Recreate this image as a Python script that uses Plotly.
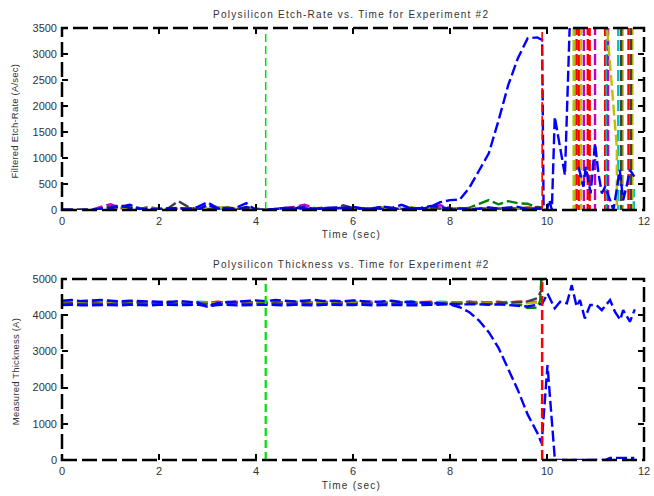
import plotly.graph_objects as go
from plotly.subplots import make_subplots

# ---- data ----
T = [0.0, 0.2, 0.4, 0.6, 0.8, 1.0, 1.2, 1.4, 1.6, 1.8,
     2.0, 2.2, 2.4, 2.6, 2.8, 3.0, 3.2, 3.4, 3.6, 3.8,
     4.0, 4.2, 4.4, 4.6, 4.8, 5.0, 5.2, 5.4, 5.6, 5.8,
     6.0, 6.2, 6.4, 6.6, 6.8, 7.0, 7.2, 7.4, 7.6, 7.8,
     8.0, 8.2, 8.4, 8.6, 8.8, 9.0, 9.2, 9.4, 9.6, 9.8]

# etch rate (A/sec), one list per wafer
rate_green = [0, 0, 0, 0, 0, 20, 10, 30, 20, 60, 10, 0, 20, 10, 0, 20, 10, 30, 0, 20, 10, 0, 0, 20, 10,
              0, 20, 30, 10, 20, 50, 10, 40, 0, 20, 10, 30, 10, 20, 0, 10, 20, 40, 120, 190, 110, 170, 130, 120, 40]
rate_red = [0, 0, 0, 0, 30, 10, 40, 20, 0, 10, 30, 0, 20, 40, 10, 30, 0, 20, 10, 40, 20, 0, 10, 30, 0,
            20, 40, 10, 20, 0, 30, 10, 20, 40, 10, 30, 20, 0, 40, 20, 10, 30, 10, 20, 40, 10, 30, 20, 50, 20]
rate_cyan = [0, 0, 0, 0, 20, 40, 30, 10, 40, 20, 0, 30, 10, 20, 40, 10, 30, 20, 0, 10, 30, 0, 20, 10, 40,
             20, 10, 30, 20, 40, 10, 20, 30, 10, 20, 40, 10, 30, 20, 10, 30, 20, 10, 40, 20, 30, 10, 20, 40, 30]
rate_magenta = [0, 0, 0, 0, 60, 110, 40, 20, 30, 10, 0, 20, 40, 10, 20, 90, 60, 20, 30, 10, 0, 0, 20, 40, 60,
                100, 40, 20, 10, 30, 20, 10, 30, 40, 20, 10, 30, 20, 50, 90, 40, 20, 10, 30, 20, 40, 10, 20, 30, 10]
rate_olive = [0, 0, 0, 0, 10, 30, 20, 50, 30, 40, 10, 20, 40, 20, 0, 30, 40, 60, 20, 60, 30, 0, 20, 10, 30,
              20, 40, 30, 20, 10, 40, 30, 20, 50, 30, 40, 60, 20, 30, 10, 20, 40, 30, 20, 40, 30, 20, 40, 20, 30]
rate_gray = [0, 0, 0, 0, 30, 60, 90, 50, 20, 30, 20, 40, 170, 60, 10, 20, 30, 50, 20, 30, 20, 0, 10, 30, 50,
             40, 20, 50, 30, 90, 40, 20, 30, 60, 40, 20, 30, 10, 40, 20, 10, 30, 40, 20, 30, 20, 40, 20, 30, 60]
rate_blue2 = [0, 0, 0, 0, 20, 40, 60, 100, 30, 20, 0, 30, 40, 20, 60, 150, 40, 20, 50, 130, 0, 0, 20, 40, 30,
              60, 20, 40, 30, 50, 60, 30, 20, 70, 40, 100, 30, 40, 80, 60, 20, 30, 10, 20, 50, 30, 40, 60, 20, 30]
rate_blue = [0, 0, 0, 0, 20, 40, 80, 40, 20, 10, 0, 30, 10, 20, 0, 100, 30, 20, 10, 60, 0, 0, 10, 30, 40,
             20, 10, 30, 50, 20, 30, 10, 40, 20, 30, 10, 40, 20, 60, 150, 190, 200, 430, 760, 1090, 1720, 2400, 2920, 3300, 3320]

# after endpoint (t > 9.8); off-scale readings show up as near-vertical strokes
rate_blue_tail_t = [9.9, 9.93, 10.0, 10.05, 10.1, 10.16, 10.37, 10.47, 10.55]
rate_blue_tail = [3270, 0, 0, 190, 0, 1790, 670, 3600, 60000]
rate_blue2_tail_t = [9.9, 10.54, 10.65, 10.75, 10.8, 10.9, 10.99, 11.06, 11.13, 11.2, 11.3, 11.37, 11.5, 11.57, 11.64, 11.71, 11.8]
rate_blue2_tail = [20, None, 830, 450, 830, 320, 1280, 710, 320, 450, 190, 0, 770, 190, 450, 770, 640]
rate_red_tail_t = [9.9, None, 10.6, 10.62, None, 10.65, 10.67, None, 10.83, 10.85, None, 10.87, 10.89, None,
                   11.19, 11.21, None, 11.67, 11.69]
rate_red_tail = [20, None, -50000, 50000, None, 50000, -50000, None, -50000, 50000, None, 50000, -50000, None,
                 50000, -50000, None, -50000, 50000]
rate_cyan_tail_t = [9.9, None, 10.56, 10.58, None, 11.22, 11.24, None, 11.46, 11.48, None, 11.71, 11.79, 11.8]
rate_cyan_tail = [30, None, 50000, -50000, None, -50000, 50000, None, 50000, -50000, None, 380, 380, -50000]
rate_magenta_tail_t = [9.9, None, 10.75, 10.77, None, 10.98, 11.0, None, 11.25, 11.27]
rate_magenta_tail = [10, None, 50000, -50000, None, -50000, 50000, None, 50000, -50000]
rate_olive_tail_t = [9.9, None, 10.54, 10.56, None, 10.69, 10.71, None, 11.2, 11.23, 11.44, 11.46,
                     None, 11.55, 11.57, None, 11.75, 11.77]
rate_olive_tail = [30, None, 50000, -50000, None, -50000, 50000, None, 60000, 3600, 1200, -50000,
                   None, 50000, -50000, None, -50000, 50000]
rate_gray_tail_t = [9.9, None, 11.52, 11.54, None, 11.72, 11.74]
rate_gray_tail = [50, None, 50000, -50000, None, -50000, 50000]
rate_green_tail_t = [9.9]
rate_green_tail = [30]

# thickness (A)
thk_green = [4340, 4350, 4330, 4340, 4360, 4350, 4330, 4340, 4350, 4360, 4340, 4330, 4350, 4340, 4360, 4350, 4340,
             4330, 4350, 4360, 4380, 4370, 4350, 4340, 4360, 4350, 4340, 4330, 4350, 4360, 4340, 4350, 4330, 4340,
             4350, 4360, 4340, 4350, 4340, 4330, 4350, 4340, 4330, 4350, 4340, 4350, 4330, 4320, 4200, 4210]
thk_red = [4360, 4340, 4370, 4350, 4340, 4360, 4370, 4350, 4340, 4360, 4350, 4370, 4340, 4350, 4360, 4340, 4370,
           4350, 4360, 4340, 4350, 4370, 4360, 4340, 4350, 4370, 4340, 4360, 4350, 4340, 4370, 4350, 4360, 4340,
           4370, 4350, 4340, 4360, 4370, 4350, 4340, 4360, 4350, 4370, 4340, 4360, 4350, 4370, 4360, 4370]
thk_cyan = [4350, 4370, 4360, 4340, 4370, 4350, 4360, 4380, 4350, 4340, 4360, 4370, 4350, 4340, 4370, 4360, 4350,
            4370, 4340, 4360, 4350, 4370, 4360, 4340, 4380, 4350, 4360, 4370, 4340, 4350, 4380, 4360, 4340, 4370,
            4350, 4360, 4380, 4350, 4340, 4370, 4360, 4350, 4370, 4340, 4360, 4350, 4370, 4340, 4360, 4350]
thk_magenta = [4340, 4360, 4350, 4370, 4340, 4350, 4360, 4340, 4370, 4350, 4360, 4340, 4350, 4370, 4360, 4340, 4350,
               4360, 4370, 4340, 4360, 4350, 4340, 4370, 4350, 4360, 4340, 4370, 4360, 4350, 4340, 4360, 4370, 4350,
               4340, 4360, 4350, 4370, 4340, 4360, 4350, 4340, 4370, 4360, 4350, 4370, 4340, 4360, 4370, 4380]
thk_olive = [4330, 4350, 4340, 4320, 4350, 4340, 4330, 4350, 4320, 4340, 4350, 4330, 4340, 4320, 4350, 4340, 4330,
             4350, 4340, 4320, 4340, 4350, 4330, 4340, 4320, 4350, 4340, 4330, 4350, 4320, 4340, 4330, 4350, 4340,
             4320, 4330, 4350, 4340, 4330, 4350, 4340, 4320, 4330, 4350, 4340, 4330, 4350, 4340, 4330, 4350]
thk_gray = [4320, 4330, 4310, 4330, 4320, 4310, 4330, 4320, 4340, 4310, 4320, 4330, 4310, 4320, 4330, 4310, 4320,
            4310, 4330, 4320, 4310, 4320, 4330, 4310, 4320, 4330, 4310, 4320, 4330, 4320, 4310, 4330, 4320, 4310,
            4320, 4330, 4320, 4310, 4330, 4320, 4310, 4320, 4330, 4320, 4310, 4330, 4340, 4350, 4380, 4470]
thk_blue2 = [4400, 4420, 4390, 4410, 4420, 4400, 4380, 4400, 4390, 4370, 4380, 4360, 4390, 4380, 4350, 4230, 4330,
             4360, 4380, 4400, 4410, 4390, 4420, 4400, 4380, 4400, 4420, 4390, 4400, 4380, 4410, 4390, 4370, 4380,
             4400, 4360, 4370, 4350, 4330, 4320, 4310, 4300, 4310, 4300, 4290, 4300, 4280, 4250, 4240, 4290]
thk_blue = [4280, 4290, 4270, 4280, 4290, 4280, 4270, 4290, 4280, 4270, 4290, 4280, 4270, 4280, 4290, 4240, 4280,
            4290, 4270, 4280, 4300, 4290, 4280, 4270, 4290, 4280, 4270, 4290, 4280, 4270, 4280, 4290, 4270, 4280,
            4290, 4280, 4270, 4280, 4290, 4280, 4300, 4220, 4080, 3850, 3530, 3100, 2500, 1930, 1260, 750]

thk_blue_tail_t = [9.89, 10.01, 10.16, 10.2, 11.2, 11.3, 11.8]
thk_blue_tail = [460, 2620, 50, 0, 0, 60, 60]
thk_blue2_tail_t = [9.9, 10.01, 10.16, 10.27, 10.41, 10.51, 10.61, 10.68, 10.78, 10.89, 11.02, 11.13, 11.3, 11.4,
                    11.51, 11.57, 11.71, 11.81]
thk_blue2_tail = [4310, 4600, 4190, 4370, 4330, 4830, 4240, 4420, 3910, 4280, 4280, 4140, 4420, 4100, 3870, 4140, 3820, 4160]
thk_gray_tail_t = [9.89, 9.94]
thk_gray_tail = [4700, 6000]
thk_green_tail_t = [9.86, 9.92]
thk_green_tail = [4400, 6000]
thk_other_tail_t = [9.9]
thk_red_tail = [4360]
thk_cyan_tail = [4350]
thk_magenta_tail = [4370]
thk_olive_tail = [4340]

EVENT_START = 4.2   # green marker
EVENT_END = 9.9     # red marker

COLORS = {"green": "#008000", "red": "#ff0000", "cyan": "#00bfbf", "magenta": "#bf00bf",
          "olive": "#bfbf00", "gray": "#404040", "blue": "#0000ff"}

# ---- figure ----
fig = make_subplots(rows=2, cols=1, vertical_spacing=0.16)
fig.update_layout(yaxis_domain=[0.5787, 1.0], yaxis2_domain=[0.0, 0.419])

DASH = "11px,4px"


def add(x, y, tx, ty, color, row, width=2.4):
    fig.add_trace(go.Scatter(x=list(x) + list(tx), y=list(y) + list(ty), mode="lines",
                             line=dict(color=COLORS[color], width=width, dash=DASH),
                             connectgaps=False, showlegend=False, hoverinfo="skip"),
                  row=row, col=1)


# etch-rate panel
add(T, rate_green, rate_green_tail_t, rate_green_tail, "green", 1)
add(T, rate_red, rate_red_tail_t, rate_red_tail, "red", 1)
add(T, rate_cyan, rate_cyan_tail_t, rate_cyan_tail, "cyan", 1)
add(T, rate_magenta, rate_magenta_tail_t, rate_magenta_tail, "magenta", 1)
add(T, rate_olive, rate_olive_tail_t, rate_olive_tail, "olive", 1)
add(T, rate_gray, rate_gray_tail_t, rate_gray_tail, "gray", 1)
add(T, rate_blue2, rate_blue2_tail_t, rate_blue2_tail, "blue", 1)
add(T, rate_blue, rate_blue_tail_t, rate_blue_tail, "blue", 1)

# thickness panel
add(T, thk_green, thk_green_tail_t, thk_green_tail, "green", 2)
add(T, thk_red, thk_other_tail_t, thk_red_tail, "red", 2)
add(T, thk_cyan, thk_other_tail_t, thk_cyan_tail, "cyan", 2)
add(T, thk_magenta, thk_other_tail_t, thk_magenta_tail, "magenta", 2)
add(T, thk_olive, thk_other_tail_t, thk_olive_tail, "olive", 2)
add(T, thk_gray, thk_gray_tail_t, thk_gray_tail, "gray", 2)
add(T, thk_blue2, thk_blue2_tail_t, thk_blue2_tail, "blue", 2)
add(T, thk_blue, thk_blue_tail_t, thk_blue_tail, "blue", 2)

# event markers
for xa, ya, w_g, w_r in (("x", "y", 1.5, 1.6), ("x2", "y2", 2.2, 2.5)):
    fig.add_shape(type="line", xref=xa, yref=ya + " domain", x0=EVENT_START, x1=EVENT_START, y0=0, y1=1,
                  line=dict(color="#00e000", width=w_g, dash="8px,4px"))
    fig.add_shape(type="line", xref=xa, yref=ya + " domain", x0=EVENT_END, x1=EVENT_END, y0=0, y1=1,
                  line=dict(color="#ff0000", width=w_r, dash="10px,4px"))
    # dashed box
    fig.add_shape(type="rect", xref=xa + " domain", yref=ya + " domain", x0=0, x1=1, y0=0, y1=1,
                  line=dict(color="black", width=2.5, dash="15px,5px"))

axis_style = dict(showgrid=False, zeroline=False, showline=False, ticks="inside", ticklen=6, tickwidth=2,
                  tickcolor="black", mirror="allticks", automargin=False,
                  tickfont=dict(family="Liberation Sans, Arial", size=11, color="#333"))
fig.update_xaxes(range=[0, 12], dtick=2, ticklabelstandoff=3, **axis_style)
fig.update_yaxes(ticklabelstandoff=4, **axis_style)
fig.update_yaxes(range=[0, 3500], dtick=500, row=1, col=1)
fig.update_yaxes(range=[0, 5000], dtick=1000, row=2, col=1)

title_font = dict(family="Liberation Sans, Arial", size=10, color="#333")
side_font = dict(family="Liberation Sans, Arial", size=9.5, color="#333")
texts = [
    ("Polysilicon Etch-Rate vs. Time for Experiment #2", 0.497, 1.032, 0, title_font),
    ("Time (sec)", 0.497, 0.521, 0, title_font),
    ("Polysilicon Thickness vs. Time for Experiment #2", 0.497, 0.4537, 0, title_font),
    ("Time (sec)", 0.497, -0.060, 0, title_font),
    ("Filtered Etch-Rate (A/sec)", -0.0808, 0.785, -90, side_font),
    ("Measured Thickness (A)", -0.0808, 0.206, -90, side_font),
]
for txt, x, y, ang, fnt in texts:
    fig.add_annotation(text=txt, x=x, y=y, xref="paper", yref="paper", showarrow=False,
                       xanchor="center", yanchor="middle", textangle=ang, font=fnt)

fig.update_layout(width=654, height=496, margin=dict(l=62, r=10, t=28, b=36),
                  paper_bgcolor="white", plot_bgcolor="white", showlegend=False)

# page body margin off; MATLAB-style letter spacing on the horizontal captions
post = """
document.body.style.margin = '0';
document.querySelectorAll('.annotation-text').forEach(function (t) {
    var s = t.textContent;
    t.style.letterSpacing = (s.indexOf('Filtered') === 0 || s.indexOf('Measured') === 0) ? '0.2px' : '1.25px';
});
"""
fig.write_html("out.html", post_script=post, config={"displayModeBar": False})
